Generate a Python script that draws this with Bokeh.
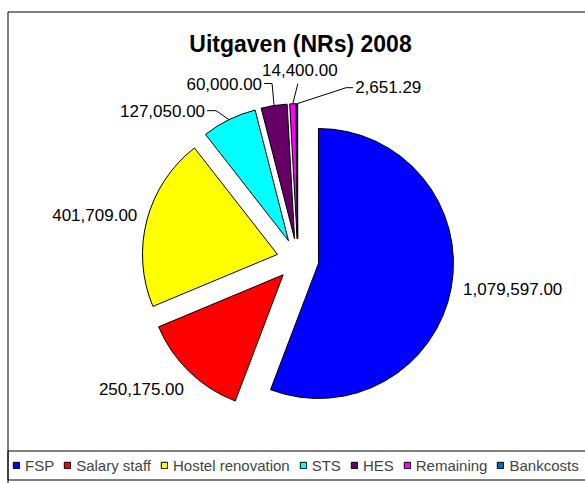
import numpy as np
from bokeh.plotting import figure
from bokeh.models import Range1d, ColumnDataSource, Legend, LegendItem
from bokeh.embed import file_html
from bokeh.resources import INLINE
from bokeh.core.properties import value

# ---------------- data ----------------
title_text = "Uitgaven (NRs) 2008"
categories = ["FSP", "Salary staff", "Hostel renovation", "STS", "HES", "Remaining", "Bankcosts"]
amounts = [1079597.00, 250175.00, 401709.00, 127050.00, 60000.00, 14400.00, 2651.29]
labels = ["1,079,597.00", "250,175.00", "401,709.00", "127,050.00", "60,000.00", "14,400.00", "2,651.29"]
colors = ["#0000FF", "#FF0000", "#FFFF00", "#00FFFF", "#660066", "#FF00FF", "#0066CC"]

# ---------------- layout ----------------
W, H = 585, 483
CX, CY = 297.3, 223.8      # pie centre (data = screen px)
R = 135                    # radius
EXPLODE = 21               # explosion distance
FONT = "Liberation Sans"

p = figure(width=W, height=H, x_range=Range1d(0, W), y_range=Range1d(0, H),
           output_backend="svg", toolbar_location=None, min_border=0,
           x_axis_type=None, y_axis_type=None)
p.grid.visible = False
p.outline_line_color = None
p.background_fill_color = "white"
p.border_fill_color = "white"

# chart border and legend box
p.quad(left=[7.5], right=[W + 20], top=[471.5], bottom=[-20],
       fill_color=None, line_color="black", line_width=1)
p.quad(left=[7.5], right=[W + 20], top=[32.5], bottom=[3.5],
       fill_color=None, line_color="black", line_width=1)

# ---------------- pie geometry ----------------
vals = np.array(amounts, dtype=float)
frac = vals / vals.sum()
cum_end = np.cumsum(frac)
cum_start = cum_end - frac
mid = cum_start + frac / 2
theta_mid = np.pi / 2 - 2 * np.pi * mid
dx, dy = np.cos(theta_mid), np.sin(theta_mid)
vx = CX + EXPLODE * dx
vy = CY + EXPLODE * dy
start = np.pi / 2 - 2 * np.pi * cum_end
end = np.pi / 2 - 2 * np.pi * cum_start
ox = vx + R * dx
oy = vy + R * dy

src = ColumnDataSource(dict(x=vx, y=vy, start=start, end=end, color=colors, cat=categories))
wr = p.wedge(x="x", y="y", radius=R, radius_units="screen", start_angle="start", end_angle="end",
             fill_color="color", line_color="black", line_width=1, source=src)

# ---------------- data labels ----------------
lx = {"left": [], "right": [], "center": []}
ly = {"left": [], "right": [], "center": []}
lt = {"left": [], "right": [], "center": []}
leader_xs, leader_ys = [], []

def add_label(align, x, y, t):
    lx[align].append(x); ly[align].append(y); lt[align].append(t)

# big slices: positioned radially, with small nudges
nudge = [(0, 3), (3, -2), (2, 0)]
for i in range(3):
    ax = ox[i] + 12 * dx[i] + nudge[i][0]
    ay = oy[i] + 12 * dy[i] + 8.5 * dy[i] + nudge[i][1]
    add_label("left" if dx[i] > 0 else "right", ax, ay, labels[i])

# small slices with leader lines (offsets relative to slice outer edge)
i = 3  # STS
tx, ty = ox[i] - 24, oy[i] + 9
add_label("right", tx, ty, labels[i])
leader_xs.append([tx + 2, tx + 11, ox[i]]); leader_ys.append([ty, ty, oy[i]])
i = 4  # HES
tx, ty = ox[i] - 12, oy[i] + 22
add_label("right", tx, ty, labels[i])
leader_xs.append([tx + 2, ox[i] - 2, ox[i]]); leader_ys.append([ty, ty, oy[i]])
i = 5  # Remaining
tx, ty = ox[i] + 7, oy[i] + 34
add_label("center", tx, ty, labels[i])
leader_xs.append([ox[i] + 5, ox[i]]); leader_ys.append([oy[i] + 20, oy[i]])
i = 6  # Bankcosts
tx, ty = ox[i] + 58, oy[i] + 17
add_label("left", tx, ty, labels[i])
leader_xs.append([tx - 2, tx - 9, ox[i]]); leader_ys.append([ty - 1, ty - 1, oy[i]])

p.multi_line(xs=leader_xs, ys=leader_ys, line_color="black", line_width=1)
for align in ("left", "right", "center"):
    if lt[align]:
        p.text(x=lx[align], y=ly[align], text=lt[align], text_align=align, text_baseline="middle",
               text_font=value(FONT), text_font_size="17px", text_color="black")

# title
p.text(x=[300], y=[440], text=[title_text], text_align="center", text_baseline="middle",
       text_font=value(FONT), text_font_size="23px", text_font_style="bold", text_color="black")

# ---------------- legend ----------------
items = [LegendItem(label=c, renderers=[wr], index=i) for i, c in enumerate(categories)]
legend = Legend(items=items, orientation="horizontal", location=(12, 8),
                glyph_width=8, glyph_height=8, label_standoff=5, spacing=9,
                padding=0, margin=0, label_height=20,
                label_text_font=FONT, label_text_font_size="15px",
                border_line_color=None, background_fill_alpha=0)
p.add_layout(legend)

open("out.html", "w").write(file_html(p, INLINE))
